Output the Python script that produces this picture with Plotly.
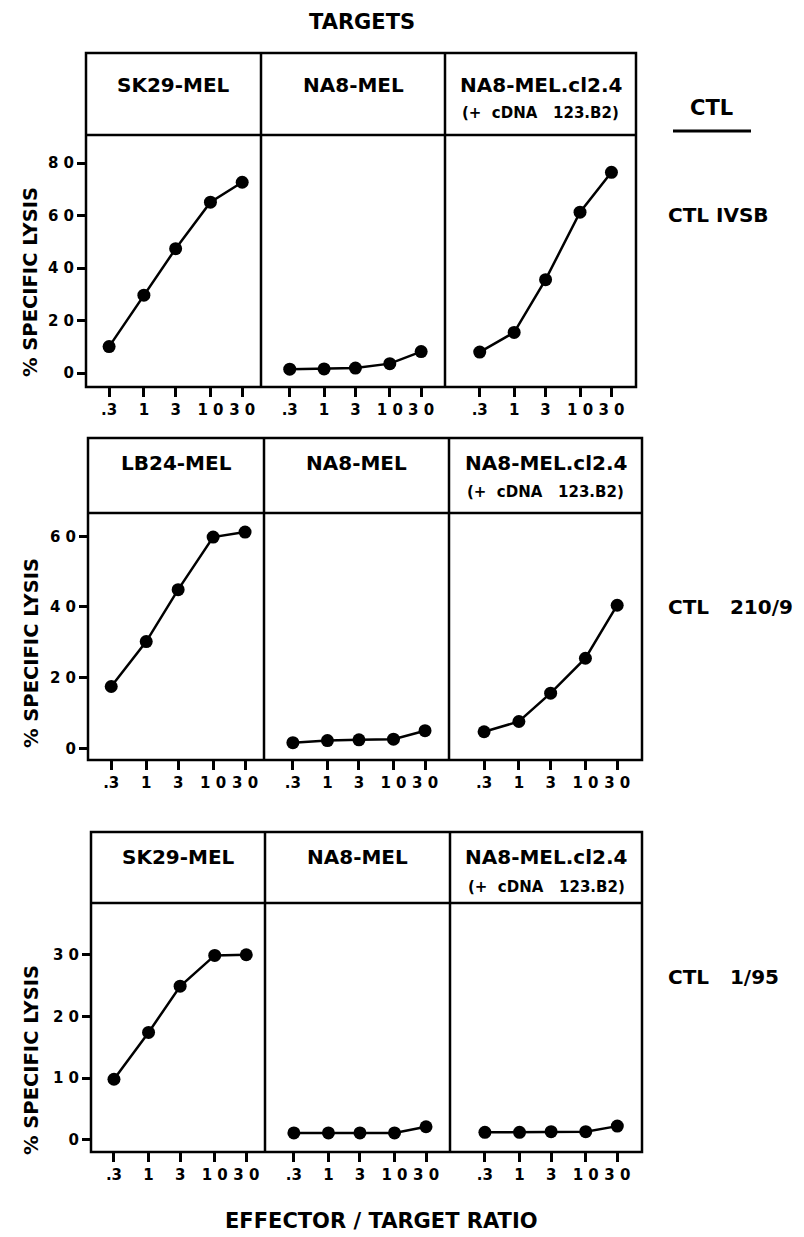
import plotly.graph_objects as go

# ---------------- data ----------------
ratios = [0.3, 1, 3, 10, 30]
ratio_labels = [".3", "1", "3", "1 0", "3 0"]

targets_r1 = ["SK29-MEL", "NA8-MEL", "NA8-MEL.cl2.4"]
targets_r2 = ["LB24-MEL", "NA8-MEL", "NA8-MEL.cl2.4"]
targets_r3 = ["SK29-MEL", "NA8-MEL", "NA8-MEL.cl2.4"]
transfect_note = "(+  cDNA   123.B2)"

ctl_names = ["CTL IVSB", "CTL   210/9", "CTL   1/95"]

ivsb_sk29 = [10.1, 29.7, 47.4, 65.1, 72.7]
ivsb_na8 = [1.5, 1.6, 1.9, 3.6, 8.2]
ivsb_cl24 = [8.0, 15.5, 35.6, 61.3, 76.5]

c210_lb24 = [17.5, 30.2, 44.9, 59.8, 61.2]
c210_na8 = [1.6, 2.2, 2.4, 2.6, 5.0]
c210_cl24 = [4.7, 7.6, 15.6, 25.5, 40.5]

c195_sk29 = [9.8, 17.4, 24.9, 29.9, 30.0]
c195_na8 = [1.1, 1.1, 1.1, 1.1, 2.1]
c195_cl24 = [1.2, 1.2, 1.3, 1.3, 2.2]

yticks_r1 = [0, 20, 40, 60, 80]
ylabels_r1 = ["0", "2 0", "4 0", "6 0", "8 0"]
yticks_r2 = [0, 20, 40, 60]
ylabels_r2 = ["0", "2 0", "4 0", "6 0"]
yticks_r3 = [0, 10, 20, 30]
ylabels_r3 = ["0", "1 0", "2 0", "3 0"]

# ---------------- layout helpers ----------------
W, H = 804, 1237
FONT = "DejaVu Sans"


def px(x):
    return x / W


def py(y):
    return 1 - y / H


rows = [
    dict(cols=[86, 261, 445, 636], header_top=53, plot_top=135, plot_bot=387,
         yr=[-5.3, 90.7], ticks=yticks_r1, labels=ylabels_r1,
         series=[ivsb_sk29, ivsb_na8, ivsb_cl24], targets=targets_r1,
         line1=85, line2=113, ctl_y=215),
    dict(cols=[88, 264, 449, 642], header_top=438, plot_top=513, plot_bot=760,
         yr=[-3.3, 66.6], ticks=yticks_r2, labels=ylabels_r2,
         series=[c210_lb24, c210_na8, c210_cl24], targets=targets_r2,
         line1=463, line2=492, ctl_y=607),
    dict(cols=[91, 265, 450, 642], header_top=832, plot_top=903, plot_bot=1152,
         yr=[-2.0, 38.4], ticks=yticks_r3, labels=ylabels_r3,
         series=[c195_sk29, c195_na8, c195_cl24], targets=targets_r3,
         line1=857, line2=887, ctl_y=977),
]
col_xranges = [[-0.87, 1.76], [-0.96, 1.84], [-1.05, 1.85]]
ytitle_centers = [282, 653, 1060]

fig = go.Figure()
layout = dict(
    width=W, height=H, margin=dict(l=0, r=0, t=0, b=0),
    paper_bgcolor="white", plot_bgcolor="white", showlegend=False,
    font=dict(family=FONT, color="black"),
)
shapes = []
annotations = []
LW = 2.5
BOLD = dict(family=FONT, color="black", weight="bold")

k = 0
for ri, row in enumerate(rows):
    c = row["cols"]
    # frame of the whole row: outer box, header divider, column dividers
    shapes.append(dict(type="rect", xref="paper", yref="paper",
                       x0=px(c[0]), x1=px(c[3]), y0=py(row["plot_bot"]), y1=py(row["header_top"]),
                       line=dict(color="black", width=LW)))
    shapes.append(dict(type="line", xref="paper", yref="paper",
                       x0=px(c[0]), x1=px(c[3]), y0=py(row["plot_top"]), y1=py(row["plot_top"]),
                       line=dict(color="black", width=LW)))
    for xd in c[1:3]:
        shapes.append(dict(type="line", xref="paper", yref="paper",
                           x0=px(xd), x1=px(xd), y0=py(row["plot_bot"]), y1=py(row["header_top"]),
                           line=dict(color="black", width=LW)))
    for ci in range(3):
        k += 1
        sfx = "" if k == 1 else str(k)
        xa, ya = "xaxis" + sfx, "yaxis" + sfx
        fig.add_trace(go.Scatter(
            x=ratios, y=row["series"][ci], mode="lines+markers",
            line=dict(color="black", width=2.5),
            marker=dict(color="black", size=13),
            xaxis="x" + sfx, yaxis="y" + sfx, cliponaxis=False,
        ))
        x0, x1 = c[ci], c[ci + 1]
        layout[xa] = dict(
            domain=[px(x0), px(x1)], type="log", range=col_xranges[ci],
            tickmode="array", tickvals=ratios, ticktext=ratio_labels,
            ticks="outside", ticklen=9, tickwidth=2.5, tickcolor="black",
            showline=False, showgrid=False, zeroline=False, anchor="y" + sfx,
            tickfont=dict(size=15, **BOLD),
        )
        yax = dict(
            domain=[py(row["plot_bot"]), py(row["plot_top"])], range=row["yr"],
            showline=False, showgrid=False, zeroline=False, anchor="x" + sfx,
        )
        if ci == 0:
            yax.update(tickmode="array", tickvals=row["ticks"], ticktext=row["labels"],
                       ticks="outside", ticklen=8, tickwidth=2.5, tickcolor="black",
                       tickfont=dict(size=15, **BOLD))
        else:
            yax.update(showticklabels=False, ticks="")
        layout[ya] = yax

        cx = px((x0 + x1) / 2)
        annotations.append(dict(text=row["targets"][ci], x=cx, y=py(row["line1"]),
                                xref="paper", yref="paper", showarrow=False,
                                xanchor="center", yanchor="middle",
                                font=dict(size=20, **BOLD)))
        if ci == 2:
            annotations.append(dict(text=transfect_note, x=cx, y=py(row["line2"]),
                                    xref="paper", yref="paper", showarrow=False,
                                    xanchor="center", yanchor="middle",
                                    font=dict(size=15, **BOLD)))

    # CTL name at right
    annotations.append(dict(text=ctl_names[ri], x=px(666), y=py(row["ctl_y"]),
                            xref="paper", yref="paper", showarrow=False,
                            xanchor="left", yanchor="middle",
                            font=dict(size=20, **BOLD)))
    # y-axis title
    annotations.append(dict(text="% SPECIFIC LYSIS", x=px(31), y=py(ytitle_centers[ri]),
                            xref="paper", yref="paper", showarrow=False, textangle=-90,
                            xanchor="center", yanchor="middle",
                            font=dict(size=19.5, **BOLD)))

annotations.append(dict(text="TARGETS", x=px(362), y=py(22), xref="paper", yref="paper",
                        showarrow=False, xanchor="center", yanchor="middle",
                        font=dict(size=21, **BOLD)))
annotations.append(dict(text="CTL", x=px(711), y=py(108), xref="paper", yref="paper",
                        showarrow=False, xanchor="center", yanchor="middle",
                        font=dict(size=21, **BOLD)))
shapes.append(dict(type="line", xref="paper", yref="paper", x0=px(673), x1=px(751),
                   y0=py(131), y1=py(131), line=dict(color="black", width=3)))
annotations.append(dict(text="EFFECTOR / TARGET RATIO", x=px(381), y=py(1221),
                        xref="paper", yref="paper", showarrow=False,
                        xanchor="center", yanchor="middle",
                        font=dict(size=21, **BOLD)))

layout["shapes"] = shapes
layout["annotations"] = annotations
fig.update_layout(**layout)
fig.write_html(
    "out.html",
    config={"displayModeBar": False},
    post_script="document.body.style.margin='0px';document.body.style.overflow='hidden';",
)
